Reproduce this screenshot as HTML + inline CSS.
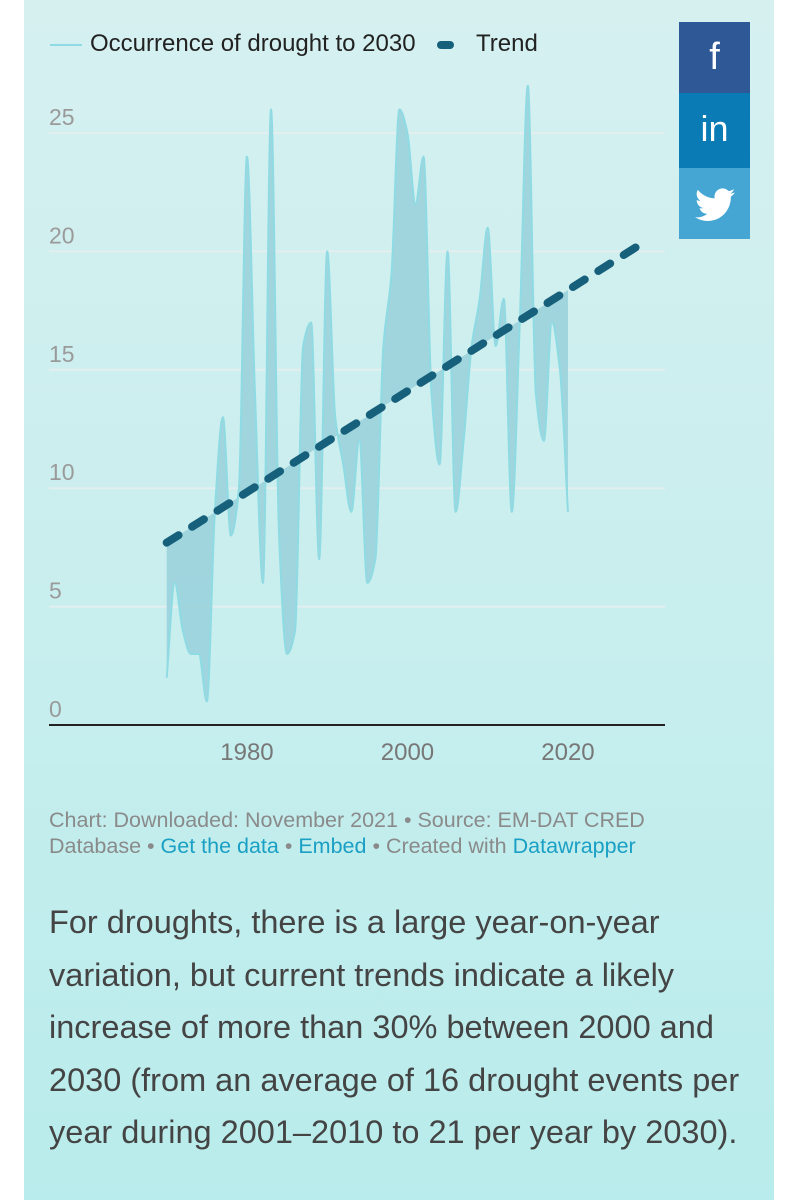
<!DOCTYPE html>
<html><head><meta charset="utf-8">
<style>
html,body{margin:0;padding:0}
body{width:798px;height:1200px;overflow:hidden;position:relative;font-family:"Liberation Sans",sans-serif;
background:linear-gradient(#fff 0,#fff 0) left/24px 100% no-repeat,linear-gradient(#fff,#fff) right/24px 100% no-repeat,linear-gradient(180deg,#d6f0f0 0%,#c9eeee 50%,#b9ecec 100%);}
.abs{position:absolute}
.leg{top:30px;font-size:24px;color:#222;white-space:nowrap}
.foot{left:49px;font-size:21.5px;color:#8a8a8a;white-space:nowrap}
.foot a{color:#1aa0c4;text-decoration:none}
.para{left:49px;top:896px;width:740px;font-size:32.5px;line-height:52.5px;color:#444;white-space:nowrap}
.soc{left:679px;width:71px;color:#fff;text-align:center}
</style></head><body>
<div class="abs leg" style="left:50px"><span style="display:inline-block;width:32px;height:2px;background:#8fdbe3;vertical-align:middle;margin-right:8px"></span>Occurrence of drought to 2030</div>
<div class="abs leg" style="left:437px"><span style="display:inline-block;width:17px;height:8px;border-radius:4px;background:#17607c;vertical-align:middle;margin-right:22px"></span>Trend</div>

<div class="abs soc" style="top:22px;height:71px;background:#2f5996;font-size:38px;line-height:71px">f</div>
<div class="abs soc" style="top:93px;height:75px;background:#0a7bb5;font-size:36px;line-height:72px">in</div>
<div class="abs soc" style="top:168px;height:71px;background:#45a5d3">
<svg width="40" height="34" viewBox="0 0 24 20" style="margin-top:20px"><path fill="#fff" d="M24 2.4c-.9.4-1.8.6-2.8.8 1-.6 1.8-1.6 2.2-2.7-1 .6-2 1-3.1 1.2C19.3.7 18 0 16.6 0c-2.7 0-4.9 2.2-4.9 4.9 0 .4 0 .8.1 1.1C7.7 5.8 4.1 3.9 1.7.9c-.4.7-.7 1.6-.7 2.5 0 1.7.9 3.2 2.2 4.1-.8 0-1.6-.2-2.2-.6v.1c0 2.4 1.7 4.4 3.9 4.8-.4.1-.8.2-1.3.2-.3 0-.6 0-.9-.1.6 2 2.4 3.4 4.6 3.4-1.7 1.3-3.8 2.1-6.1 2.1-.4 0-.8 0-1.2-.1C2.2 18.8 4.8 19.6 7.5 19.6c9.1 0 14-7.5 14-14v-.6c1-.7 1.8-1.6 2.5-2.6z"/></svg></div>

<svg id="chart" class="abs" style="left:0;top:0" width="798" height="800"></svg>

<div class="abs foot" style="top:808px">Chart: Downloaded: November 2021 • Source: EM-DAT CRED</div>
<div class="abs foot" style="top:834px">Database • <a>Get the data</a> • <a>Embed</a> • Created with <a>Datawrapper</a></div>
<div class="abs para">For droughts, there is a large year-on-year<br>variation, but current trends indicate a likely<br>increase of more than 30% between 2000 and<br>2030 (from an average of 16 drought events per<br>year during 2001–2010 to 21 per year by 2030).</div>

<script>
const years=[1970,1971,1972,1973,1974,1975,1976,1977,1978,1979,1980,1981,1982,1983,1984,1985,1986,1987,1988,1989,1990,1991,1992,1993,1994,1995,1996,1997,1998,1999,2000,2001,2002,2003,2004,2005,2006,2007,2008,2009,2010,2011,2012,2013,2014,2015,2016,2017,2018,2019,2020];
const droughts=[2,6,4,3,3,1,9,13,8,10,24,14,6,26,8,3,4,16,17,7,20,13,11,9,12,6,7,16,19,26,25,22,24,14,11,20,9,12,16,18,21,16,18,9,17,27,14,12,17,15,9];
const trendYears=[1970,2030];
const trendValues=[7.7,20.5];
const yTicks=[0,5,10,15,20,25];
const xTicks=[1980,2000,2020];

const svg=document.getElementById('chart');
const NS='http://www.w3.org/2000/svg';
const X=v=>166.7+(v-1970)*8.025;
const Y=v=>725-v*23.68;
function mk(t,a){const e=document.createElementNS(NS,t);for(const k in a)e.setAttribute(k,a[k]);svg.appendChild(e);return e;}
function trendAt(yr){return trendValues[0]+(trendValues[1]-trendValues[0])*(yr-trendYears[0])/(trendYears[1]-trendYears[0]);}

yTicks.forEach(t=>{
  if(t>0){const g=mk('line',{x1:49,x2:665,y1:Y(t),y2:Y(t),stroke:'#e3eeee','stroke-width':2});
  
  }
  const l=mk('text',{x:49,y:Y(t)-8,'font-size':23,fill:'#9a9a9a','font-family':'Liberation Sans, sans-serif'});
  l.textContent=t;
  
  
});

const pts=years.map((y,i)=>[X(y),Y(droughts[i])]);
function monotone(p){
  const n=p.length,d=[],m=[];
  for(let i=0;i<n-1;i++)d.push((p[i+1][1]-p[i][1])/(p[i+1][0]-p[i][0]));
  for(let i=0;i<n;i++){
    if(i===0)m.push(d[0]);else if(i===n-1)m.push(d[n-2]);
    else m.push(d[i-1]*d[i]<=0?0:2/(1/d[i-1]+1/d[i]));
  }
  let s='M'+p[0][0]+','+p[0][1];
  for(let i=0;i<n-1;i++){const h=(p[i+1][0]-p[i][0])/3;
    s+=' C'+(p[i][0]+h)+','+(p[i][1]+m[i]*h)+' '+(p[i+1][0]-h)+','+(p[i+1][1]-m[i+1]*h)+' '+p[i+1][0]+','+p[i+1][1];}
  return s;
}
const line=monotone(pts);
const last=years[years.length-1];
const area=mk('path',{d:line+' L'+X(last)+','+Y(trendAt(last))+' L'+X(years[0])+','+Y(trendAt(years[0]))+' Z',fill:'#9dd3dc',opacity:0.95});


const ln=mk('path',{d:line,fill:'none',stroke:'#8fdbe3','stroke-width':2});



const tr=mk('line',{x1:X(trendYears[0]),y1:Y(trendValues[0]),x2:X(trendYears[1]),y2:Y(trendValues[1]),stroke:'#17607c','stroke-width':8,'stroke-linecap':'round','stroke-dasharray':'14 16'});



const ax=mk('line',{x1:49,x2:665,y1:725,y2:725,stroke:'#222','stroke-width':2});


xTicks.forEach(t=>{
  const l=mk('text',{x:X(t),y:760,'font-size':24,fill:'#777','text-anchor':'middle','font-family':'Liberation Sans, sans-serif'});
  l.textContent=t;
  
  
});
</script>
</body></html>
